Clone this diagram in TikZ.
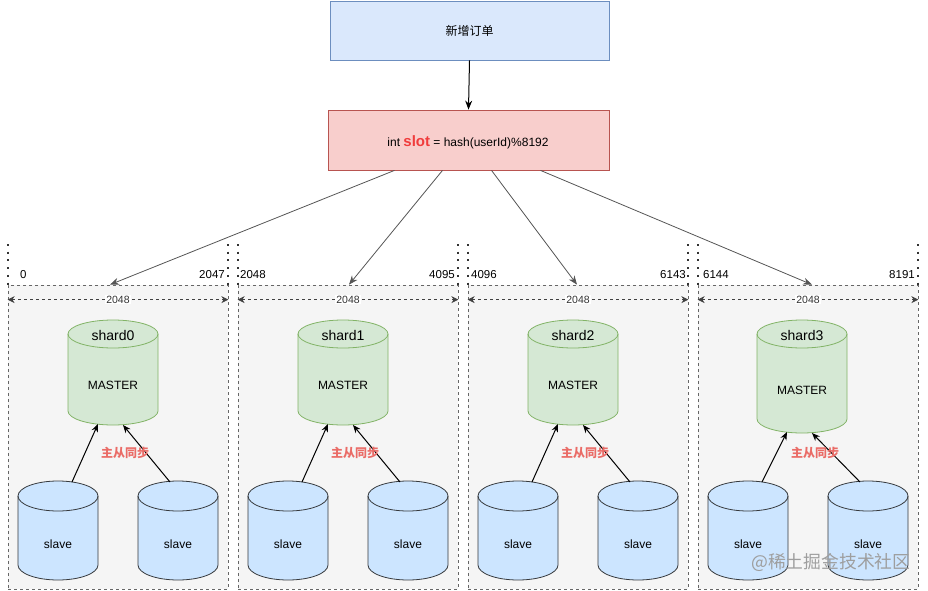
\documentclass[tikz,border=0pt]{standalone}
\usepackage{fontspec}
\setmainfont{Liberation Sans}
\newfontfamily\cjk{Noto Sans CJK SC}
\usetikzlibrary{arrows.meta,calc}
\definecolor{topfill}{HTML}{DAE8FC}
\definecolor{topline}{HTML}{6C8EBF}
\definecolor{redfill}{HTML}{F8CECC}
\definecolor{redline}{HTML}{B85450}
\definecolor{mfill}{HTML}{D5E8D4}
\definecolor{mline}{HTML}{82B366}
\definecolor{sfill}{HTML}{CCE5FF}
\definecolor{sline}{HTML}{36393D}
\definecolor{boxfill}{HTML}{F5F5F5}
\definecolor{boxline}{HTML}{666666}
\definecolor{syncred}{HTML}{EA6B66}
\definecolor{slotred}{HTML}{F03C3C}
\definecolor{arrgray}{HTML}{555555}
\newcommand\mycyl[7]{%
  \node[inner sep=0pt, outer sep=0pt, minimum width={2*#4pt}, minimum height={#5pt}] (#1) at (#2,{-#3-#5/2}) {};
  \path[#7] ([yshift=-#6pt]#1.north west) -- ([yshift=#6pt]#1.south west)
    arc[start angle=180, end angle=360, x radius=#4pt, y radius=#6pt]
    -- ([yshift=-#6pt]#1.north east)
    arc[start angle=0, end angle=180, x radius=#4pt, y radius=#6pt] -- cycle;
  \path[#7, fill=none] ([yshift=-#6pt]#1.north west)
    arc[start angle=180, end angle=360, x radius=#4pt, y radius=#6pt];
}
\begin{document}
\begin{tikzpicture}[x=1pt, y=1pt,
  txt/.style={font=\fontsize{12}{14}\selectfont, inner sep=0pt},
  cjktxt/.style={font=\cjk\fontsize{12}{14}\selectfont, inner sep=0pt},
  topbox/.style={draw=topline, fill=topfill, line width=0.8pt, minimum width=279pt, minimum height=59pt, inner sep=0pt},
  redbox/.style={draw=redline, fill=redfill, line width=0.8pt, minimum width=281pt, minimum height=60pt, inner sep=0pt},
  shardbox/.style={draw=boxline, fill=boxfill, dashed, dash pattern=on 3pt off 3pt, line width=0.7pt, minimum width=220pt, minimum height=304pt, inner sep=0pt},
  mstyle/.style={draw=mline, fill=mfill, line width=0.8pt},
  sstyle/.style={draw=sline, fill=sfill, line width=0.8pt},
  dotline/.style={line width=2pt, dash pattern=on 2pt off 5.7pt, black!80},
  dimline/.style={draw=black!75, dashed, dash pattern=on 3pt off 3pt, line width=0.8pt, {Stealth[length=7pt,width=7pt]}-{Stealth[length=7pt,width=7pt]}},
  dimlabel/.style={fill=white, inner sep=1pt, font=\fontsize{10.5}{12}\selectfont, text=black!80},
  edgelabel/.style={font=\fontsize{11.5}{13}\selectfont, inner sep=0pt},
  feed/.style={draw=arrgray, line width=0.8pt, -{Stealth[length=9pt,width=7pt]}},
  sync/.style={draw=black, line width=1pt, -{Stealth[length=8pt,width=6.5pt]}},
  synclabel/.style={font=\cjk\bfseries\fontsize{12}{14}\selectfont, text=syncred, inner sep=0pt}
]
\useasboundingbox (0,0) rectangle (928,-591);

\node[topbox] (top) at (469.5,-30.5) {};
\node[cjktxt] (toptxt) at (top.center) {新增订单};
\node[redbox] (red) at (468.5,-140) {};
\node[txt] (redtxt) at (468,-142) {int {\color{slotred}\bfseries\fontsize{15}{15}\selectfont slot} = hash(userId)\%8192};
\draw[black, line width=1pt, -{Stealth[length=9pt,width=7pt]}] (top.south) -- (red.north);

\foreach \k/\lo/\hi/\lx/\rx/\mc/\mh/\my in {0/0/2047/20/225/113/105/385, 1/2048/4095/240/455/343/105/385, 2/4096/6143/471/686/573/105/385, 3/6144/8191/703/915/802/113/390} {
  \pgfmathsetmacro\bx{118+230*\k}
  \pgfmathsetmacro\bl{8+230*\k}
  \pgfmathsetmacro\br{228+230*\k}
  \pgfmathsetmacro\sa{58+230*\k}
  \pgfmathsetmacro\sb{178+230*\k}
  \pgfmathsetmacro\sy{125+230*\k}
  \node[shardbox] (b\k) at (\bx,-437) {};
  \draw[dotline] (\bl,-244) -- (\bl,-285);
  \draw[dotline] (\br,-244) -- (\br,-285);
  \node[edgelabel, anchor=west] (lo\k) at (\lx,-275) {\lo};
  \node[edgelabel, anchor=east] (hi\k) at (\rx,-275) {\hi};
  \draw[dimline] ([yshift=-15pt]b\k.north west) -- node[dimlabel] (dl\k) {2048} ([yshift=-15pt]b\k.north east);
  \mycyl{m\k}{\mc}{320}{45}{\mh}{14}{mstyle}
  \node[font=\fontsize{14}{16}\selectfont, inner sep=0pt] (mn\k) at (\mc,-335) {shard\k};
  \node[txt] (mt\k) at (\mc,-\my) {MASTER};
  \mycyl{sl\k}{\sa}{481}{40}{99}{15}{sstyle}
  \mycyl{sr\k}{\sb}{481}{40}{99}{15}{sstyle}
  \node[txt] (slt\k) at (\sa,-544) {slave};
  \node[txt] (srt\k) at (\sb,-544) {slave};
  \draw[sync] ([xshift=14pt,yshift=-1pt]sl\k.north) -- ([xshift=-15pt,yshift=1pt]m\k.south);
  \draw[sync] ([xshift=-8pt,yshift=-1pt]sr\k.north) -- ([xshift=10pt]m\k.south);
  \node[synclabel] (sy\k) at (\sy,-453) {主从同步};
}

\draw[feed] ([xshift=-74pt]red.south) -- ([xshift=-8pt]b0.north);
\draw[feed] ([xshift=-26pt]red.south) -- ([xshift=1pt]b1.north);
\draw[feed] ([xshift=23pt]red.south) -- ([xshift=-1pt]b2.north);
\draw[feed] ([xshift=72pt]red.south) -- ([xshift=4pt]b3.north);

\node[font=\cjk\fontsize{17.8}{20}\selectfont, text=black!38, inner sep=0pt, anchor=west] (wm) at (751,-562) {@稀土掘金技术社区};
\end{tikzpicture}
\end{document}
